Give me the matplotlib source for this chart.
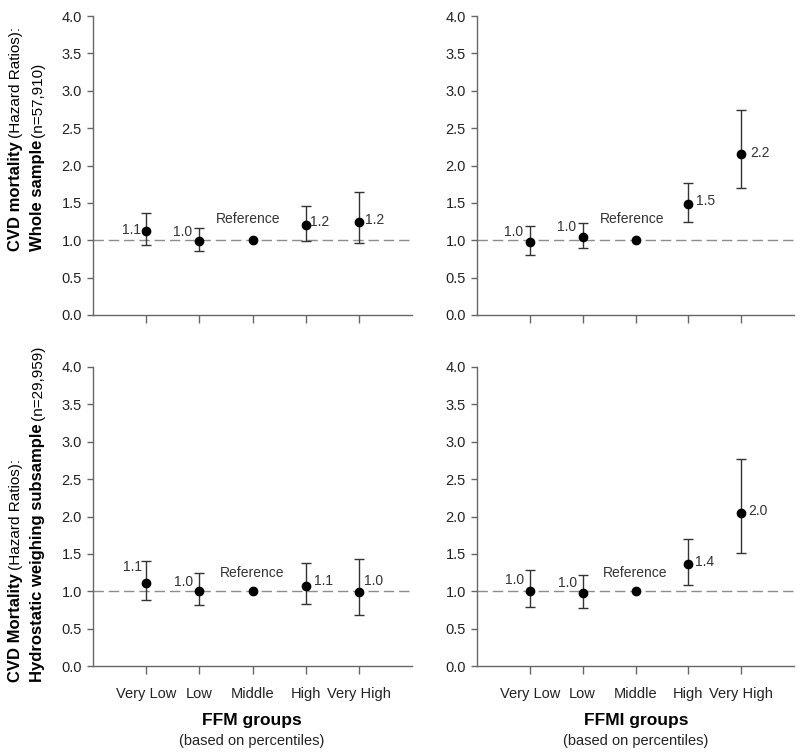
import numpy as np
import matplotlib
matplotlib.use("Agg")
import matplotlib.pyplot as plt

plt.rcParams['font.family'] = ['Liberation Sans', 'DejaVu Sans']

# ---------------- data ----------------
groups = ["Very Low", "Low", "Middle", "High", "Very High"]

ffm_whole_hr = [1.13, 0.99, 1.00, 1.20, 1.25]
ffm_whole_lo = [0.94, 0.85, 1.00, 0.99, 0.96]
ffm_whole_hi = [1.36, 1.16, 1.00, 1.46, 1.64]
ffm_whole_lab = ["1.1", "1.0", "Reference", "1.2", "1.2"]

ffmi_whole_hr = [0.97, 1.05, 1.00, 1.49, 2.16]
ffmi_whole_lo = [0.80, 0.89, 1.00, 1.25, 1.70]
ffmi_whole_hi = [1.19, 1.23, 1.00, 1.76, 2.74]
ffmi_whole_lab = ["1.0", "1.0", "Reference", "1.5", "2.2"]

ffm_hydro_hr = [1.11, 1.01, 1.00, 1.07, 0.99]
ffm_hydro_lo = [0.88, 0.82, 1.00, 0.83, 0.68]
ffm_hydro_hi = [1.40, 1.25, 1.00, 1.38, 1.43]
ffm_hydro_lab = ["1.1", "1.0", "Reference", "1.1", "1.0"]

ffmi_hydro_hr = [1.01, 0.98, 1.00, 1.36, 2.05]
ffmi_hydro_lo = [0.79, 0.78, 1.00, 1.08, 1.51]
ffmi_hydro_hi = [1.29, 1.22, 1.00, 1.70, 2.77]
ffmi_hydro_lab = ["1.0", "1.0", "Reference", "1.4", "2.0"]

reference_index = 2
yticks = [0.0, 0.5, 1.0, 1.5, 2.0, 2.5, 3.0, 3.5, 4.0]

# ---------------- layout ----------------
W, H = 800, 755
fig = plt.figure(figsize=(W / 100, H / 100), dpi=100)

def px_axes(x0, y_top, x1, y_bot):
    return fig.add_axes([x0 / W, 1 - y_bot / H, (x1 - x0) / W, (y_bot - y_top) / H])

panels = [
    (px_axes(93, 16, 412, 315), ffm_whole_hr, ffm_whole_lo, ffm_whole_hi, ffm_whole_lab, False,
     [(-5, 1), (-7, 9), (-4, 21), (4, 3), (6, 2)]),
    (px_axes(477, 16, 794, 315), ffmi_whole_hr, ffmi_whole_lo, ffmi_whole_hi, ffmi_whole_lab, False,
     [(-7, 10), (-7, 10), (-3, 21), (8, 3), (9, 1)]),
    (px_axes(93, 367, 412, 666), ffm_hydro_hr, ffm_hydro_lo, ffm_hydro_hi, ffm_hydro_lab, True,
     [(-4, 16), (-6, 9), (0, 18), (8, 5), (5, 11)]),
    (px_axes(477, 367, 794, 666), ffmi_hydro_hr, ffmi_hydro_lo, ffmi_hydro_hi, ffmi_hydro_lab, True,
     [(-6, 11), (-6, 10), (0, 18), (7, 2), (7, 2)]),
]

spine_col = '#666666'
txt_col = '#222222'

for ax, hr, lo, hi, lab, show_x, offs in panels:
    x = np.arange(1, len(groups) + 1)
    hr = np.array(hr); lo = np.array(lo); hi = np.array(hi)
    ax.set_xlim(0, 6)
    ax.set_ylim(0, 4)
    ax.axhline(1.0, color='#8c8c8c', lw=1.0, dashes=(7.5, 3.5), zorder=1)
    mask = np.arange(len(groups)) != reference_index
    ax.errorbar(x[mask], hr[mask], yerr=[hr[mask] - lo[mask], hi[mask] - hr[mask]],
                fmt='none', ecolor='#333333', elinewidth=1.0, capsize=3.5, capthick=1.0, zorder=2)
    ax.plot(x, hr, 'o', color='black', markersize=6, zorder=3)
    for i in range(len(groups)):
        dx, dy = offs[i]
        if i == reference_index:
            ha = 'center'
        elif i < reference_index:
            ha = 'right'
        else:
            ha = 'left'
        ax.annotate(lab[i], (x[i], hr[i]), xytext=(dx, dy), textcoords='offset pixels',
                    ha=ha, va='center', fontsize=10, color='#333333')
    for s in ['top', 'right']:
        ax.spines[s].set_visible(False)
    for s in ['left', 'bottom']:
        ax.spines[s].set_color(spine_col)
        ax.spines[s].set_linewidth(1.0)
    ax.set_yticks(yticks)
    ax.set_yticklabels([f"{v:.1f}" for v in yticks])
    ax.set_xticks(x)
    if show_x:
        ax.set_xticklabels(groups)
    else:
        ax.set_xticklabels([])
    ax.tick_params(axis='y', direction='out', length=4, width=1, color=spine_col,
                   labelsize=10.5, labelcolor=txt_col, pad=4)
    ax.tick_params(axis='x', direction='out', length=6, width=1, color=spine_col,
                   labelsize=10.5, labelcolor=txt_col, pad=9)

# x-axis titles
for cx, title in [(252, "FFM groups"), (636, "FFMI groups")]:
    fig.text(cx / W, 1 - 720 / H, title, ha='center', va='center', fontsize=12.5,
             fontweight='bold', color='black')
    fig.text(cx / W, 1 - 741 / H, "(based on percentiles)", ha='center', va='center',
             fontsize=10.5, color=txt_col)

# rotated multi-style y labels
renderer = fig.canvas.get_renderer()

def rot_label(xb, yb, parts):
    y = yb
    for text, size, weight in parts:
        t = fig.text(xb / W, 1 - y / H, text, rotation=90, rotation_mode='anchor',
                     ha='left', va='baseline', fontsize=size, fontweight=weight, color='black')
        ext = t.get_window_extent(renderer)
        y -= ext.height + 3

rot_label(20, 251, [("CVD mortality", 12, 'bold'), ("(Hazard Ratios):", 11, 'normal')])
rot_label(42, 251, [("Whole sample", 12, 'bold'), ("(n=57,910)", 11, 'normal')])
rot_label(20, 682, [("CVD Mortality", 12, 'bold'), ("(Hazard Ratios):", 11, 'normal')])
rot_label(42, 682, [("Hydrostatic weighing subsample", 12, 'bold'), ("(n=29,959)", 11, 'normal')])

fig.savefig("out.png", dpi=100)
